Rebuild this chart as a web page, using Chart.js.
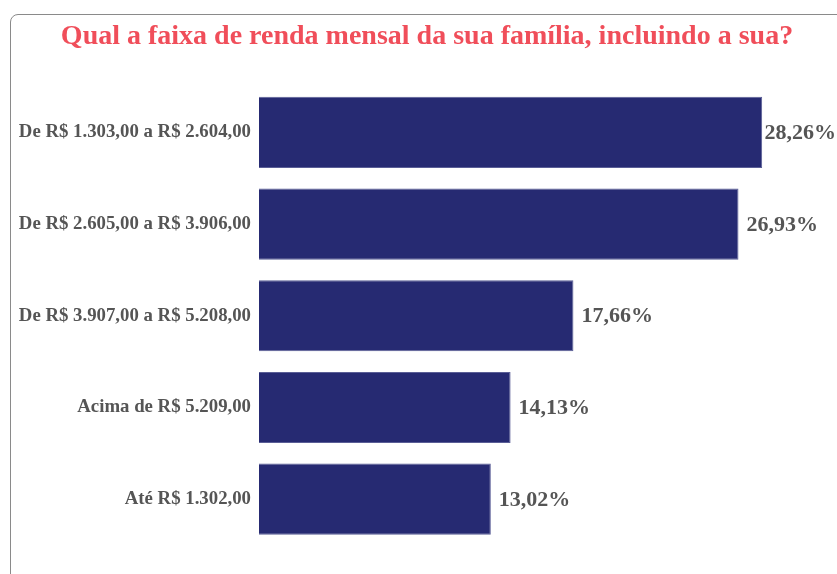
<!DOCTYPE html>
<html>
<head>
<meta charset="utf-8">
<script src="https://cdn.jsdelivr.net/npm/chart.js@4"></script>
<style>
  html, body { margin: 0; padding: 0; background: #ffffff; overflow: hidden; }
  .card {
    position: absolute; left: 10px; top: 14px;
    width: 840px; height: 600px;
    border: 1px solid #8a8a8a; border-radius: 8px;
    background: #ffffff;
  }
  .card canvas { position: absolute; left: 0; top: 0; }
</style>
</head>
<body>
<div class="card"><canvas id="chartRenda" width="832" height="580"></canvas></div>
<script>
/* data */
const TITLE = 'Qual a faixa de renda mensal da sua família, incluindo a sua?';
const faixas = [
  'De R$ 1.303,00 a R$ 2.604,00',
  'De R$ 2.605,00 a R$ 3.906,00',
  'De R$ 3.907,00 a R$ 5.208,00',
  'Acima de R$ 5.209,00',
  'Até R$ 1.302,00',
];
const percentuais = [28.26, 26.93, 17.66, 14.13, 13.02];

const FONT_SERIF = "'Liberation Serif', 'Times New Roman', serif";
const VISIBLE_W = 825;   // canvas px that fall inside the window
const fmtPct = v => v.toFixed(2).replace('.', ',') + '%';

/* value labels after each bar, kept inside the visible area */
const valueLabels = {
  id: 'valueLabels',
  afterDatasetsDraw(chart) {
    const ctx = chart.ctx;
    const meta = chart.getDatasetMeta(0);
    ctx.save();
    ctx.font = 'bold 22px ' + FONT_SERIF;
    ctx.fillStyle = '#555555';
    ctx.textBaseline = 'middle';
    ctx.textAlign = 'left';
    meta.data.forEach((bar, i) => {
      const txt = fmtPct(percentuais[i]);
      const w = ctx.measureText(txt).width;
      const x = Math.min(bar.x + 8, VISIBLE_W - w);
      ctx.fillText(txt, x, bar.y + 1);
    });
    ctx.restore();
  },
};

new Chart(document.getElementById('chartRenda'), {
  type: 'bar',
  data: {
    labels: faixas,
    datasets: [{
      data: percentuais,
      backgroundColor: '#262a72',
      borderColor: '#5a5e96',
      borderWidth: 1,
      barPercentage: 0.776,
      categoryPercentage: 1,
    }],
  },
  options: {
    indexAxis: 'y',
    responsive: false,
    animation: false,
    layout: { padding: { top: 0, right: 0, bottom: 50, left: 0 } },
    plugins: {
      legend: { display: false },
      tooltip: { enabled: false },
      title: {
        display: true,
        text: TITLE,
        color: '#f04e5a',
        font: { family: FONT_SERIF, size: 28, weight: 'bold' },
        padding: { top: 5, bottom: 33 },
      },
    },
    scales: {
      x: { display: false, min: 0, max: 32.8 },
      y: {
        grid: { display: false },
        border: { display: false },
        afterFit: s => { s.width = 248; },
        ticks: {
          color: '#555555',
          padding: 0,
          font: { family: FONT_SERIF, size: 18.8, weight: 'bold' },
        },
      },
    },
  },
  plugins: [valueLabels],
});
</script>
</body>
</html>
